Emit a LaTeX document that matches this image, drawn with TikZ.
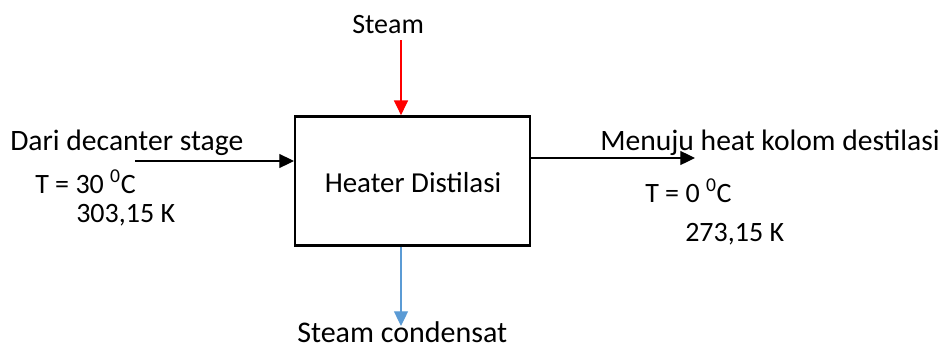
\documentclass[tikz,border=0pt]{standalone}
\usepackage{fontspec}
\setmainfont{Carlito}
\usetikzlibrary{arrows.meta,positioning,calc}
\definecolor{steamred}{HTML}{FF0000}
\definecolor{condblue}{HTML}{5B9BD5}
\tikzset{
  unit/.style={
    rectangle,
    draw=black,
    line width=1.8pt,
    minimum width=176pt,
    minimum height=97pt
  },
  tag/.style={inner sep=0pt, anchor=base west, font=\fontsize{21}{25}\selectfont},
  bigtag/.style={tag, font=\fontsize{22.2}{26}\selectfont},
  line/.style={-{Triangle[length=11pt,width=10.5pt]}, line width=0.9pt, draw=black}
}

\begin{document}
\begin{tikzpicture}[x=0.75pt, y=-0.75pt]
  \useasboundingbox (0,0) rectangle (944,347);
  \node[unit] (heater) at (412.5,181) {};
  \node[font=\fontsize{21.7}{26}\selectfont, inner sep=0pt, anchor=base] (heatname) at (413,192) {Heater Distilasi};

  % feed side
  \node[bigtag] (feed) at (10,150) {Dari decanter stage};
  \node[tag] (feedT) at (35,193) {T = 30 \textsuperscript{0}C};
  \node[tag] (feedK) at (76,222) {303,15 K};
  \coordinate (feedin) at (135,161);

  % product side
  \node[bigtag] (prod) at (600,150) {Menuju heat kolom destilasi};
  \node[tag] (prodT) at (645,202) {T = 0 \textsuperscript{0}C};
  \node[tag] (prodK) at (685,241) {273,15 K};
  \coordinate (prodout) at (695,158);

  % steam in and condensate out
  \node[tag] (steam) at (352,33) {Steam};
  \node[bigtag, font=\fontsize{22.5}{26}\selectfont] (cond) at (297,342) {Steam condensat};
  \coordinate (steamin) at (401,40);
  \coordinate (condout) at (401,326);

  \draw[line] (feedin) -- (feedin -| heater.west);
  \draw[line] (heater.east |- prodout) -- (prodout);
  \draw[line, draw=steamred, fill=steamred] (steamin) -- (steamin |- heater.north);
  \draw[line, draw=condblue, fill=condblue] (condout |- heater.south) -- (condout);
\end{tikzpicture}
\end{document}
